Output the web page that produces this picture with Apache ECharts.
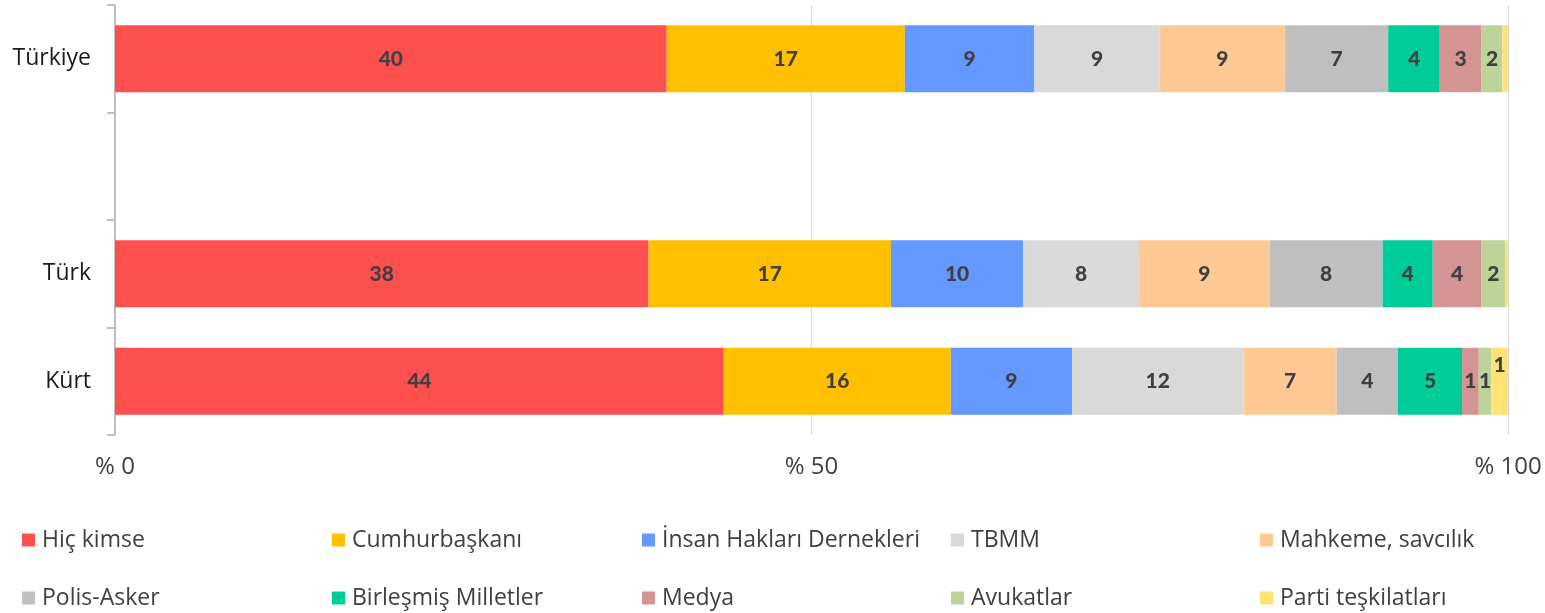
<!DOCTYPE html>
<html>
<head>
<meta charset="utf-8">
<style>
  html, body { margin: 0; padding: 0; background: #fff; }
  #chart { width: 1545px; height: 613px; }
</style>
<script src="https://cdn.jsdelivr.net/npm/echarts@6/dist/echarts.min.js"></script>
</head>
<body>
<div id="chart"></div>
<script>
// Rows of the chart (the blank row is a spacer between the total and the breakdown)
const categories = ['Türkiye', '', 'Türk', 'Kürt'];

// Answer options, in stacking order
const seriesNames = [
  'Hiç kimse', 'Cumhurbaşkanı', 'İnsan Hakları Dernekleri', 'TBMM', 'Mahkeme, savcılık',
  'Polis-Asker', 'Birleşmiş Milletler', 'Medya', 'Avukatlar', 'Parti teşkilatları'
];

// Shares (%) for each option, per row: Türkiye, spacer, Türk, Kürt
const hicKimse      = [39.6, null, 38.3, 43.7];
const cumhurbaskani = [17.1, null, 17.4, 16.3];
const insanHaklari  = [9.3,  null, 9.5,  8.7];
const tbmm          = [9.0,  null, 8.3,  12.3];
const mahkeme       = [9.0,  null, 9.4,  6.7];
const polisAsker    = [7.4,  null, 8.1,  4.4];
const birlesmis     = [3.7,  null, 3.6,  4.6];
const medya         = [3.0,  null, 3.5,  1.2];
const avukatlar     = [1.5,  null, 1.7,  0.9];
const parti         = [0.4,  null, 0.2,  1.2];

const seriesValues = [hicKimse, cumhurbaskani, insanHaklari, tbmm, mahkeme,
                      polisAsker, birlesmis, medya, avukatlar, parti];

const colors = ['#FF5050', '#FFC000', '#6699FF', '#D9D9D9', '#FFC996',
                '#BFBFBF', '#00CC99', '#D49494', '#BED39A', '#FFE375'];

// X-axis tick labels
const xTicks = { 0: '% 0', 50: '% 50', 100: '% 100' };

const textFont = 'Open Sans';

const series = seriesNames.map((name, si) => ({
  name,
  type: 'bar',
  stack: 'total',
  barWidth: 67,
  itemStyle: { color: colors[si] },
  label: {
    show: true,
    position: 'inside',
    color: '#404040',
    fontFamily: 'Lato',
    fontWeight: 900,
    fontSize: 21,
    formatter: p => {
      const r = Math.round(p.value);
      return r ? String(r) : '';
    }
  },
  emphasis: { disabled: true },
  data: seriesValues[si].map((v, ci) => {
    // the narrow last slice of the Kürt row carries its label higher up
    if (si === seriesNames.length - 1 && ci === 3) {
      return { value: v, label: { offset: [0, -16] } };
    }
    return v;
  })
}));

// Legend laid out as a 5 x 2 grid
const legendCols = [22, 332, 642, 951, 1260];
const legendRows = [527, 585];
const legends = seriesNames.map((name, i) => ({
  data: [name],
  left: legendCols[i % 5],
  top: legendRows[Math.floor(i / 5)],
  padding: 0,
  icon: 'rect',
  itemWidth: 13,
  itemHeight: 13,
  itemGap: 0,
  selectedMode: false,
  textStyle: {
    fontFamily: textFont,
    fontSize: 23,
    color: '#404040',
    lineHeight: 26,
    padding: [0, 0, 0, 2]
  }
}));

const chart = echarts.init(document.getElementById('chart'), null, { renderer: 'canvas' });
chart.setOption({
  animation: false,
  backgroundColor: '#ffffff',
  color: colors,
  legend: legends,
  grid: { left: 115, right: 37, top: 5, bottom: 178, containLabel: false },
  xAxis: {
    type: 'value',
    min: 0,
    max: 100,
    interval: 50,
    axisLine: { show: false },
    axisTick: { show: false },
    splitLine: { show: true, lineStyle: { color: '#D9D9D9', width: 1 } },
    axisLabel: {
      margin: 20,
      fontFamily: textFont,
      fontSize: 24,
      color: '#404040',
      formatter: v => xTicks[v] !== undefined ? xTicks[v] : ''
    }
  },
  yAxis: {
    type: 'category',
    data: categories,
    inverse: true,
    axisLine: { show: true, lineStyle: { color: '#BFBFBF', width: 2 } },
    axisTick: { show: true, length: 8, lineStyle: { color: '#BFBFBF', width: 2 } },
    axisLabel: {
      margin: 24,
      fontFamily: textFont,
      fontSize: 23,
      color: '#1a1a1a'
    }
  },
  series
});
</script>
</body>
</html>
